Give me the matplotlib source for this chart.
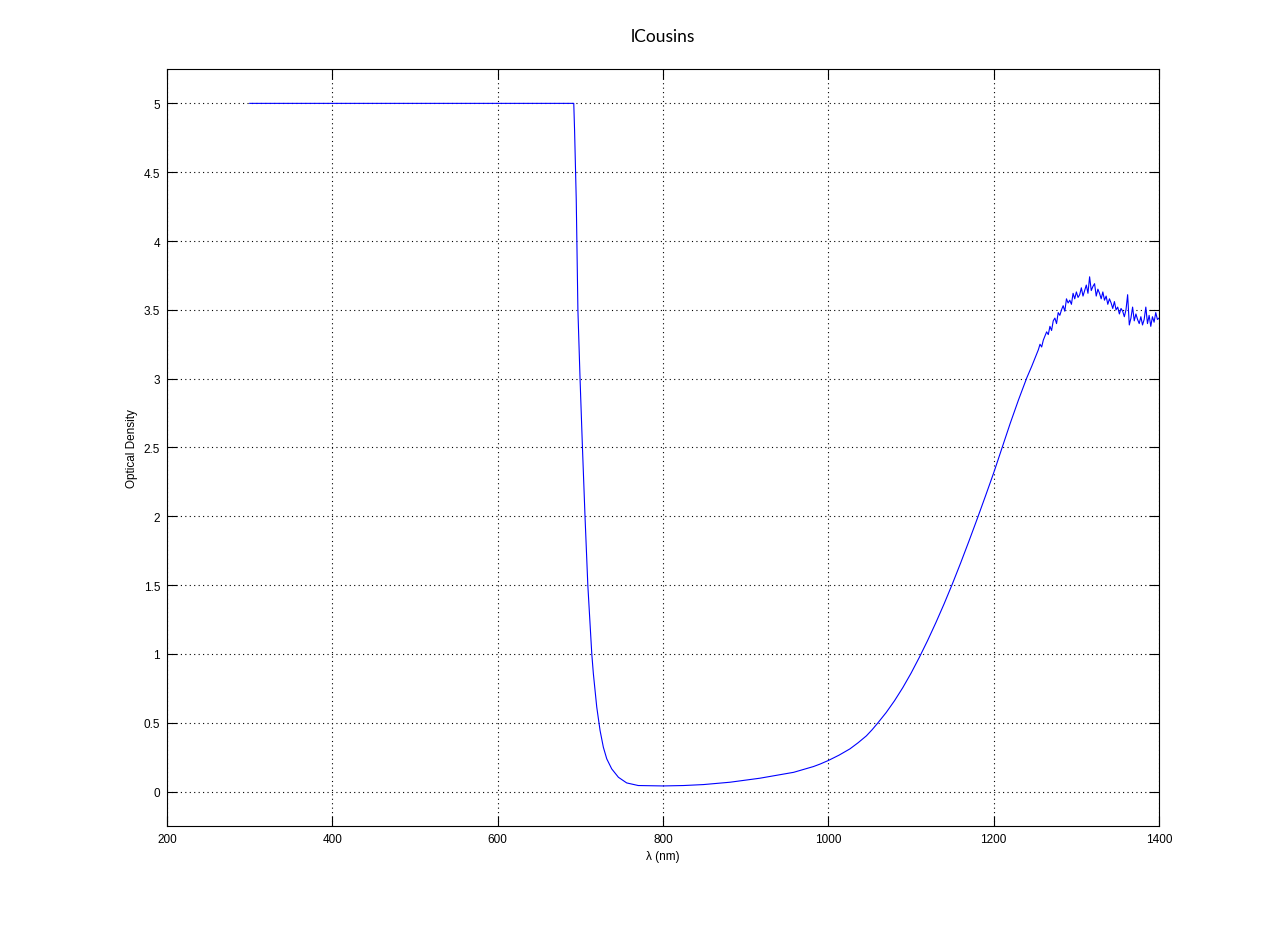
import numpy as np
import matplotlib
matplotlib.use('Agg')
import matplotlib.pyplot as plt

# smooth part of the curve (nm, optical density)
wl_smooth = [300, 692, 693, 695, 697, 699.6, 702.5, 705.6, 709, 713.8,
             715.7, 719.8, 723.8, 727.8, 731.9, 737.9, 746, 756, 770, 800,
             825, 849, 881, 917, 958, 982, 990, 1000, 1013, 1026,
             1036, 1046, 1053, 1060, 1070, 1080, 1090, 1100, 1110, 1120,
             1130, 1140, 1150, 1160, 1170, 1180, 1190, 1200, 1210, 1220,
             1230, 1240, 1246]
od_smooth = [5.0, 5.0, 4.8, 4.3, 3.5, 3.0, 2.5, 2.0, 1.5, 1.0,
             0.857, 0.614, 0.444, 0.322, 0.238, 0.165, 0.104, 0.063, 0.044, 0.041,
             0.044, 0.051, 0.068, 0.097, 0.14, 0.182, 0.20, 0.226, 0.265, 0.31,
             0.355, 0.405, 0.45, 0.50, 0.575, 0.66, 0.755, 0.86, 0.975, 1.097,
             1.227, 1.364, 1.509, 1.661, 1.819, 1.981, 2.147, 2.316, 2.496, 2.676,
             2.846, 3.006, 3.09]

# noisy tail, read every 2 nm from 1250 to 1400
wl_noisy = list(range(1250, 1401, 2))
od_noisy = [3.15, 3.18, 3.21, 3.25, 3.23, 3.28, 3.31, 3.34, 3.32, 3.38,
            3.35, 3.42, 3.44, 3.40, 3.48, 3.46, 3.50, 3.53, 3.49, 3.58,
            3.55, 3.57, 3.54, 3.62, 3.58, 3.63, 3.59, 3.61, 3.66, 3.60,
            3.64, 3.68, 3.62, 3.74, 3.64, 3.67, 3.69, 3.60, 3.65, 3.62,
            3.58, 3.63, 3.57, 3.60, 3.54, 3.58, 3.55, 3.51, 3.56, 3.50,
            3.52, 3.47, 3.51, 3.49, 3.45, 3.50, 3.61, 3.39, 3.44, 3.52,
            3.42, 3.47, 3.43, 3.40, 3.45, 3.39, 3.43, 3.52, 3.40, 3.46,
            3.38, 3.45, 3.41, 3.48, 3.43, 3.44]

wl = np.array(wl_smooth + wl_noisy, dtype=float)
od = np.array(od_smooth + od_noisy, dtype=float)

x_ticks = [200, 400, 600, 800, 1000, 1200, 1400]
y_ticks = [0, 0.5, 1, 1.5, 2, 2.5, 3, 3.5, 4, 4.5, 5]
y_labels = ['0', '0.5', '1', '1.5', '2', '2.5', '3', '3.5', '4', '4.5', '5']

plt.rcParams['font.family'] = ['Liberation Sans', 'DejaVu Sans']

fig = plt.figure(figsize=(12.81, 9.29), dpi=100)
ax = fig.add_axes([0.1304, 0.1098, 0.7744, 0.8149])

ax.plot(wl, od, color='#0000ff', lw=0.8)

ax.set_xlim(200, 1400)
ax.set_ylim(-0.25, 5.25)
ax.set_xticks(x_ticks)
ax.set_yticks(y_ticks)
ax.set_yticklabels(y_labels)
ax.tick_params(direction='in', length=7, width=0.8, top=True, right=True,
               labelsize=8.5, pad=5)
ax.grid(True, color='black', linestyle=(0, (1, 3)), lw=0.8)
for s in ax.spines.values():
    s.set_linewidth(0.8)

ax.set_xlabel('λ (nm)', fontsize=8.5, labelpad=4)
ax.set_ylabel('Optical Density', fontsize=8.5, labelpad=4)
ax.set_title('lCousins', fontsize=12.5, family=['Lato', 'DejaVu Sans'], pad=20)

fig.savefig('out.png', dpi=100, facecolor='white')
